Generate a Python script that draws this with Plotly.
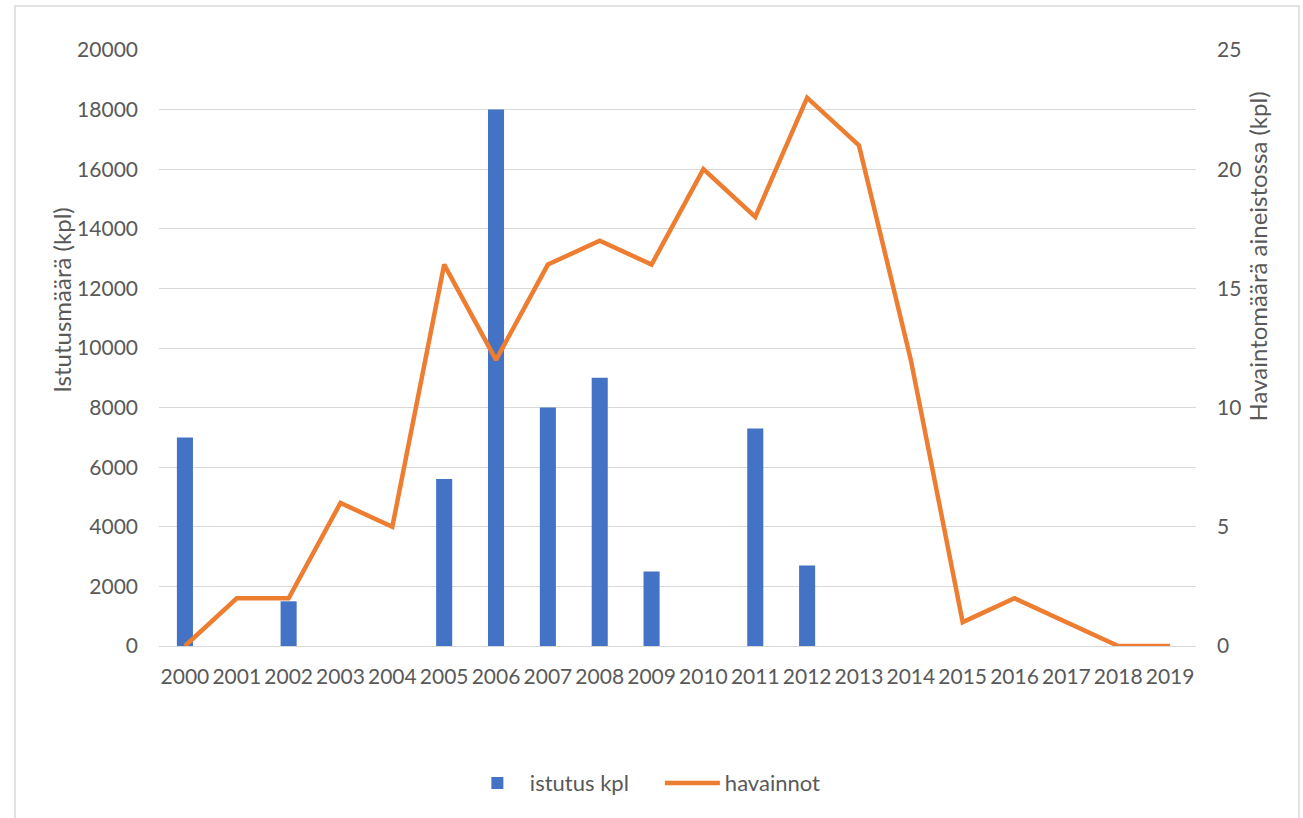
import plotly.graph_objects as go

# Vuodet ja arvot
vuodet = [str(v) for v in range(2000, 2020)]
istutus_kpl = [7000, None, 1500, None, None, 5600, 18000, 8000, 9000, 2500,
               None, 7300, 2700, None, None, None, None, None, None, None]
havainnot = [0, 2, 2, 6, 5, 16, 12, 16, 17, 16,
             20, 18, 23, 21, 12, 1, 2, 1, 0, 0]

vasen_tikit = list(range(0, 20001, 2000))
oikea_tikit = list(range(0, 26, 5))

FONTTI = "Lato"
HARMAA = "#595959"
RUUDUKKO = "#D9D9D9"

fig = go.Figure()

# -----------------------------
# Pylväät: istutukset
# -----------------------------
fig.add_trace(go.Bar(
    x=vuodet,
    y=istutus_kpl,
    name="istutus kpl",
    marker=dict(color="#4472C4", line=dict(width=0)),
    yaxis="y"
))

# -----------------------------
# Viiva: havainnot
# -----------------------------
fig.add_trace(go.Scatter(
    x=vuodet,
    y=havainnot,
    name="havainnot",
    mode="lines",
    line=dict(color="#ED7D31", width=4.5),
    yaxis="y2"
))

# Akselien otsikot tekstinä
fig.add_annotation(
    text="Istutusmäärä (kpl)", textangle=-90,
    xref="paper", yref="paper", x=-0.11, y=0.58,
    showarrow=False, font=dict(family=FONTTI, size=24, color=HARMAA)
)
fig.add_annotation(
    text="Havaintomäärä aineistossa (kpl)", textangle=-90,
    xref="paper", yref="paper", x=1.075, y=0.654,
    showarrow=False, font=dict(family=FONTTI, size=24, color=HARMAA)
)

# Kaavion kehys
fig.add_shape(
    type="rect", xref="paper", yref="paper",
    x0=-0.1389, x1=1.0993, y0=-0.31, y1=1.0738,
    line=dict(color=RUUDUKKO, width=1.5), fillcolor="rgba(0,0,0,0)",
    layer="below"
)

fig.update_layout(
    width=1303,
    height=818,
    margin=dict(l=159, r=107, t=50, b=172),
    paper_bgcolor="white",
    plot_bgcolor="white",
    font=dict(family=FONTTI, size=21, color=HARMAA),
    bargap=0.69,
    showlegend=True,
    legend=dict(
        orientation="h",
        x=0.483, xanchor="center",
        y=-0.23, yanchor="middle",
        font=dict(family=FONTTI, size=22, color=HARMAA),
        itemwidth=55,
        entrywidth=125,
        traceorder="normal"
    ),
    xaxis=dict(
        type="category",
        showgrid=False,
        showline=True,
        linecolor=RUUDUKKO,
        linewidth=1,
        ticks="",
        ticklabelstandoff=12,
        tickfont=dict(family=FONTTI, size=21, color=HARMAA)
    ),
    yaxis=dict(
        range=[0, 20000],
        tickvals=vasen_tikit,
        tickformat="d",
        showgrid=True,
        gridcolor=RUUDUKKO,
        gridwidth=1,
        zeroline=False,
        showline=False,
        ticks="",
        ticklabelstandoff=20,
        tickfont=dict(family=FONTTI, size=21, color=HARMAA)
    ),
    yaxis2=dict(
        range=[0, 25],
        tickvals=oikea_tikit,
        overlaying="y",
        side="right",
        showgrid=False,
        zeroline=False,
        showline=False,
        ticks="",
        ticklabelstandoff=20,
        tickfont=dict(family=FONTTI, size=21, color=HARMAA)
    )
)

fig.write_html("out.html", config={"displayModeBar": False},
               post_script="document.body.style.margin='0';")
